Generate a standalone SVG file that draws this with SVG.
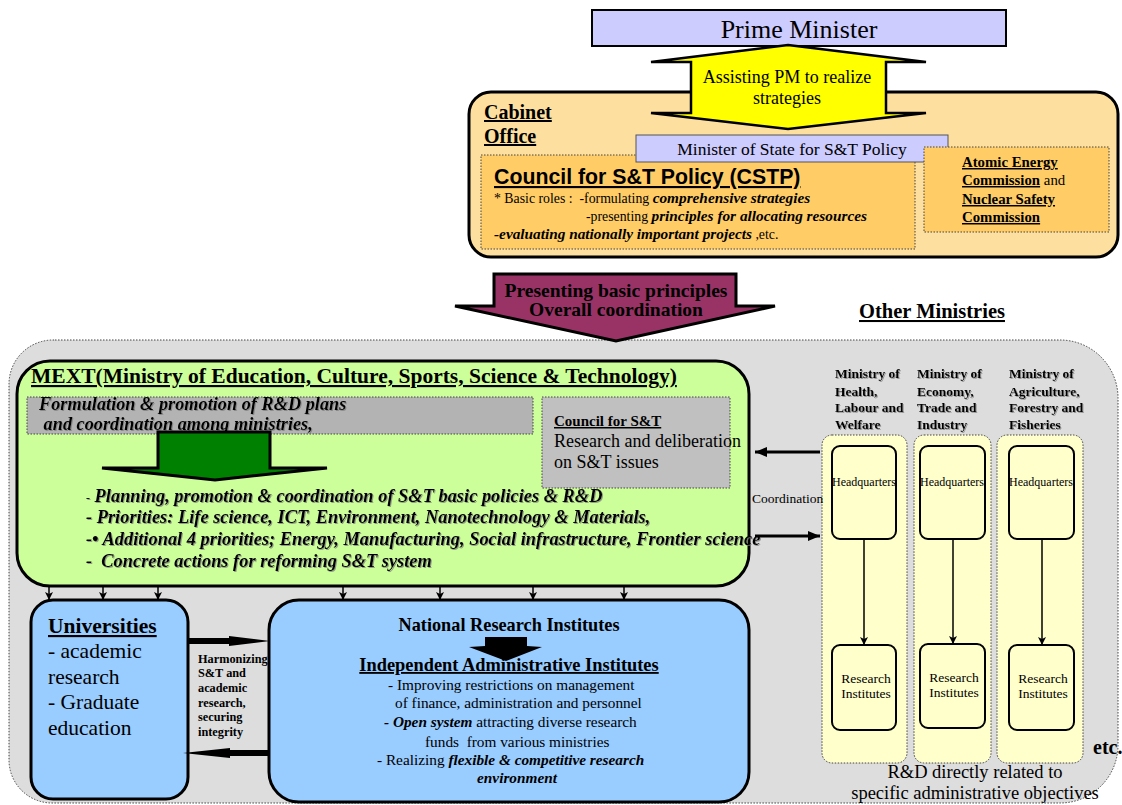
<svg xmlns="http://www.w3.org/2000/svg" width="1122" height="805" viewBox="0 0 1122 805">
<style>
text{font-family:"Liberation Serif","Times New Roman",serif;fill:#000}
.b{font-weight:bold}
.i{font-style:italic}
.bi{font-weight:bold;font-style:italic}
.u{text-decoration:underline}
.c{text-anchor:middle}
.sans{font-family:"Liberation Sans",Arial,sans-serif}
.dot{stroke:#444;stroke-width:1;stroke-dasharray:1.5 1.5}
.sh{filter:url(#shadow)}
</style>
<defs>
<filter id="shadow" x="-5%" y="-20%" width="110%" height="150%"><feDropShadow dx="1" dy="1" stdDeviation="0.6" flood-color="#777" flood-opacity="0.7"/></filter>
<marker id="ah" markerUnits="userSpaceOnUse" markerWidth="8" markerHeight="8" refX="8" refY="4" orient="auto"><path d="M0,0 L8,4 L0,8 L2,4 z" fill="#000"/></marker>
<marker id="ahc" markerUnits="userSpaceOnUse" markerWidth="12" markerHeight="10" refX="12" refY="5" orient="auto"><path d="M0,0 L12,5 L0,10 z" fill="#000"/></marker>
</defs>

<g id="region-ministries">
<path d="M55 340 H1060 A58 58 0 0 1 1118 398 V745 A58 58 0 0 1 1060 803 H52 A43 43 0 0 1 9 760 V384 A44 44 0 0 1 53 340 Z" fill="#DDDDDD" class="dot"/>
</g>

<g id="prime-minister">
<rect x="592" y="10" width="414" height="36" fill="#CCCCFF" stroke="#000" stroke-width="2"/>
<text x="799" y="38" class="c" font-size="26">Prime Minister</text>
</g>

<g id="cabinet-office">
<rect x="469" y="92" width="649" height="165" rx="22" fill="#FDDF9F" stroke="#000" stroke-width="3"/>
<text x="484" y="119" font-size="20" class="b u">Cabinet</text>
<text x="484" y="143" font-size="20" class="b u">Office</text>
</g>

<g id="assist-arrow">
<polygon points="788,45 926,62 886,62 886,113 926,113 788,129 651,113 691,113 691,62 651,62" fill="#FFFF00" stroke="#000" stroke-width="2.5"/>
<text x="787" y="83" class="c" font-size="18">Assisting PM to realize</text>
<text x="787" y="104" class="c" font-size="18">strategies</text>
</g>

<g id="cstp">
<rect x="481" y="155" width="434" height="94" fill="#FFCC66" class="dot"/>
<text x="494" y="184" font-size="21.3" class="sans b u">Council for S&amp;T Policy (CSTP)</text>
<text x="494" y="203" font-size="13.8" xml:space="preserve">* Basic roles :  -formulating <tspan class="bi" font-size="15.3">comprehensive strategies</tspan></text>
<text x="586" y="221" font-size="13.8">-presenting <tspan class="bi" font-size="15.3">principles for allocating resources</tspan></text>
<text x="494" y="239" font-size="13.8"><tspan class="bi" font-size="15.3">-evaluating nationally important projects</tspan> ,etc.</text>
</g>

<g id="minister-of-state">
<rect x="636" y="135" width="312" height="27" fill="#CCCCFF" stroke="#555" stroke-width="1"/>
<text x="792" y="155" class="c" font-size="17.5">Minister of State for S&amp;T Policy</text>
</g>

<g id="atomic-energy">
<rect x="924" y="147" width="185" height="85" fill="#FFCC66" class="dot"/>
<text x="962" y="167" font-size="14.8" class="b u">Atomic Energy</text>
<text x="962" y="185" font-size="14.8"><tspan class="b u">Commission</tspan> and</text>
<text x="962" y="204" font-size="14.8" class="b u">Nuclear Safety</text>
<text x="962" y="222" font-size="14.8" class="b u">Commission</text>
</g>

<g id="presenting-arrow">
<polygon points="494,274 736,274 736,306 775,306 616,341 455,306 494,306" fill="#993366" stroke="#000" stroke-width="3"/>
<text x="616" y="297" class="c b" font-size="19.5">Presenting basic principles</text>
<text x="616" y="316" class="c b" font-size="19.5">Overall coordination</text>
</g>

<g id="other-ministries-label">
<text x="932" y="318" class="c b u" font-size="20.5">Other Ministries</text>
</g>

<g id="mext">
<rect x="17" y="361" width="732" height="225" rx="33" fill="#CCFF99" stroke="#000" stroke-width="3"/>
<text x="31" y="383" font-size="21.5" class="b u">MEXT(Ministry of Education, Culture, Sports, Science &amp; Technology)</text>
<rect x="27" y="397" width="506" height="37" fill="#B3B3B3" class="dot"/>
<text x="39" y="410" font-size="18.3" class="bi sh">Formulation &amp; promotion of R&amp;D plans</text>
<text x="39" y="430" font-size="18.3" class="bi sh" xml:space="preserve"> and coordination among ministries,</text>
<polygon points="158,432 270,432 270,468 327,468 215,480 102,468 158,468" fill="#008000" stroke="#000" stroke-width="3"/>
<text x="86" y="502" font-size="18.4" class="bi sh"><tspan font-size="12" font-weight="normal" font-style="normal">-</tspan> Planning, promotion &amp; coordination of S&amp;T basic policies &amp; R&amp;D</text>
<text x="86" y="523" font-size="18.4" class="bi sh">- Priorities: Life science, ICT, Environment, Nanotechnology &amp; Materials,</text>
<text x="86" y="545" font-size="18.4" class="bi sh">-• Additional 4 priorities; Energy, Manufacturing, Social infrastructure, Frontier science</text>
<text x="86" y="567" font-size="18.4" class="bi sh" xml:space="preserve">-  Concrete actions for reforming S&amp;T system</text>
</g>

<g id="council-st">
<rect x="542" y="397" width="188" height="91" fill="#C0C0C0" class="dot"/>
<text x="554" y="426" font-size="15" class="b u">Council for S&amp;T</text>
<text x="554" y="447" font-size="18">Research and deliberation</text>
<text x="554" y="468" font-size="18">on S&amp;T issues</text>
</g>

<g id="universities">
<rect x="31" y="600" width="157" height="199" rx="22" fill="#99CCFF" stroke="#000" stroke-width="3"/>
<text x="48" y="633" font-size="21.5" class="b u">Universities</text>
<text x="48" y="658" font-size="21.5">- academic</text>
<text x="48" y="684" font-size="21.5">research</text>
<text x="48" y="709" font-size="21.5">- Graduate</text>
<text x="48" y="735" font-size="21.5">education</text>
</g>

<g id="nri">
<rect x="269" y="600" width="480" height="202" rx="30" fill="#99CCFF" stroke="#000" stroke-width="3"/>
<text x="509" y="631" class="c b" font-size="18.3">National Research Institutes</text>
<polygon points="485,637 527,637 527,646 542,647 506,661 469,647 485,646" fill="#000"/>
<text x="509" y="671" class="c b u" font-size="18.4">Independent Administrative Institutes</text>
<text x="388" y="690" font-size="15.3">- Improving restrictions on management</text>
<text x="395" y="708" font-size="15.3">of finance, administration and personnel</text>
<text x="384" y="727" font-size="15.3"><tspan class="bi">- Open system</tspan> attracting diverse research</text>
<text x="425" y="747" font-size="15.3" xml:space="preserve">funds  from various ministries</text>
<text x="377" y="765" font-size="15.3">- Realizing <tspan class="bi">flexible &amp; competitive research</tspan></text>
<text x="517" y="783" class="c bi" font-size="15.3">environment</text>
</g>

<g id="harmonizing-label">
<text font-size="12.3" class="b"><tspan x="198" y="663">Harmonizing</tspan><tspan x="198" y="677">S&amp;T and</tspan><tspan x="198" y="692">academic</tspan><tspan x="198" y="707">research,</tspan><tspan x="198" y="721">securing</tspan><tspan x="198" y="736">integrity</tspan></text>
</g>

<g id="col-health">
<text font-size="13.5" class="b sh"><tspan x="835" y="378">Ministry of</tspan><tspan x="835" y="396">Health,</tspan><tspan x="835" y="412">Labour and</tspan><tspan x="835" y="429">Welfare</tspan></text>
<rect x="822" y="435" width="85" height="328" rx="10" fill="#FFFFCC" class="dot"/>
<rect x="832" y="446" width="64" height="93" rx="8" fill="#FFFFCC" stroke="#000" stroke-width="2"/>
<text x="864" y="486" class="c" font-size="12">Headquarters</text>
<rect x="832" y="645" width="64" height="85" rx="8" fill="#FFFFCC" stroke="#000" stroke-width="2"/>
<text x="866" y="683" class="c" font-size="13.5">Research</text>
<text x="866" y="698" class="c" font-size="13.5">Institutes</text>
</g>

<g id="col-economy">
<text font-size="13.5" class="b sh"><tspan x="917" y="378">Ministry of</tspan><tspan x="917" y="396">Economy,</tspan><tspan x="917" y="412">Trade and</tspan><tspan x="917" y="429">Industry</tspan></text>
<rect x="914" y="435" width="77" height="328" rx="10" fill="#FFFFCC" class="dot"/>
<rect x="920" y="446" width="65" height="93" rx="8" fill="#FFFFCC" stroke="#000" stroke-width="2"/>
<text x="952" y="486" class="c" font-size="12">Headquarters</text>
<rect x="920" y="644" width="65" height="84" rx="8" fill="#FFFFCC" stroke="#000" stroke-width="2"/>
<text x="954" y="682" class="c" font-size="13.5">Research</text>
<text x="954" y="697" class="c" font-size="13.5">Institutes</text>
</g>

<g id="col-agriculture">
<text font-size="13.5" class="b sh"><tspan x="1009" y="378">Ministry of</tspan><tspan x="1009" y="396">Agriculture,</tspan><tspan x="1009" y="412">Forestry and</tspan><tspan x="1009" y="429">Fisheries</tspan></text>
<rect x="997" y="435" width="86" height="328" rx="10" fill="#FFFFCC" class="dot"/>
<rect x="1009" y="446" width="65" height="93" rx="8" fill="#FFFFCC" stroke="#000" stroke-width="2"/>
<text x="1041" y="486" class="c" font-size="12">Headquarters</text>
<rect x="1009" y="645" width="65" height="85" rx="8" fill="#FFFFCC" stroke="#000" stroke-width="2"/>
<text x="1043" y="683" class="c" font-size="13.5">Research</text>
<text x="1043" y="698" class="c" font-size="13.5">Institutes</text>
</g>

<g id="bottom-labels">
<text x="1093" y="754" class="b" font-size="20">etc.</text>
<text x="975" y="778" class="c" font-size="18.5">R&amp;D directly related to</text>
<text x="975" y="799" class="c" font-size="18.5">specific administrative objectives</text>
<text x="752" y="503" font-size="13.5">Coordination</text>
</g>

<g id="connectors" fill="none" stroke="#000">
<line x1="49" y1="587" x2="49" y2="600" stroke-width="1.5" marker-end="url(#ah)"/>
<line x1="103" y1="587" x2="103" y2="600" stroke-width="1.5" marker-end="url(#ah)"/>
<line x1="158" y1="587" x2="158" y2="600" stroke-width="1.5" marker-end="url(#ah)"/>
<line x1="343" y1="587" x2="343" y2="600" stroke-width="1.5" marker-end="url(#ah)"/>
<line x1="440" y1="587" x2="440" y2="600" stroke-width="1.5" marker-end="url(#ah)"/>
<line x1="533" y1="587" x2="533" y2="600" stroke-width="1.5" marker-end="url(#ah)"/>
<line x1="624" y1="587" x2="624" y2="600" stroke-width="1.5" marker-end="url(#ah)"/>
<line x1="864" y1="539" x2="864" y2="645" stroke-width="1.5" marker-end="url(#ah)"/>
<line x1="953" y1="539" x2="953" y2="644" stroke-width="1.5" marker-end="url(#ah)"/>
<line x1="1042" y1="539" x2="1042" y2="645" stroke-width="1.5" marker-end="url(#ah)"/>
<line x1="820" y1="452" x2="755" y2="452" stroke-width="3" marker-end="url(#ahc)"/>
<line x1="755" y1="536" x2="820" y2="536" stroke-width="3" marker-end="url(#ahc)"/>
<path d="M188 641 H232" stroke-width="6"/>
<polygon points="229,636 270,641 229,646" fill="#000" stroke="none"/>
<path d="M270 753 H226" stroke-width="6"/>
<polygon points="230,748 183,753 230,758" fill="#000" stroke="none"/>
</g>
</svg>
